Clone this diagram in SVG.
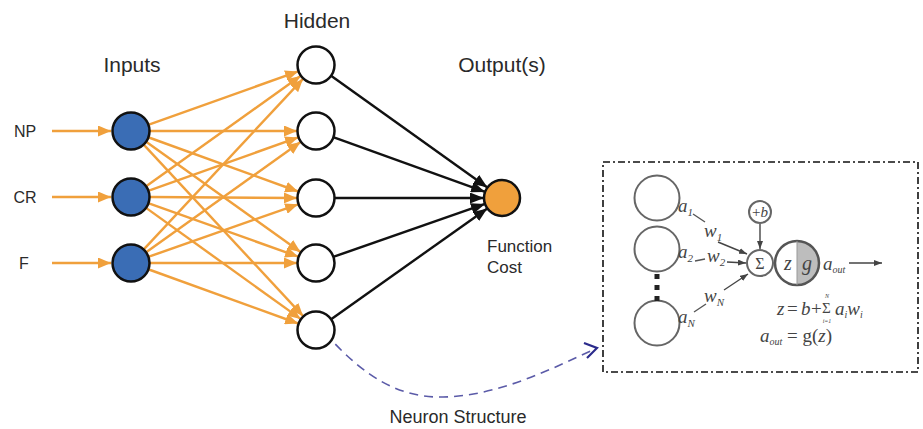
<svg xmlns="http://www.w3.org/2000/svg" width="923" height="429" viewBox="0 0 923 429">
<style>
.lbl{font-family:"Liberation Sans",Arial,sans-serif;fill:#2a2a2a}
.ttl{font-size:21px;text-anchor:middle}
.sm{font-size:16px}
.or{stroke:#F0A03C;stroke-width:2.4;fill:none;marker-end:url(#ao)}
.bk{stroke:#111;stroke-width:2.4;fill:none;marker-end:url(#ab)}
.in{fill:#3A6DB5;stroke:#111;stroke-width:2.5}
.hd{fill:#fff;stroke:#111;stroke-width:2.5}
.mt{font-family:"Liberation Serif","Times New Roman",serif;font-style:italic;fill:#444}
.up{font-family:"Liberation Serif","Times New Roman",serif;fill:#444}
.ic{fill:#fff;stroke:#666;stroke-width:2}
.thin{stroke:#555;stroke-width:1.4;fill:none}
.ta{stroke:#444;stroke-width:1.4;fill:none;marker-end:url(#at)}
</style>
<defs>
<marker id="ao" markerUnits="userSpaceOnUse" markerWidth="13" markerHeight="11" refX="13" refY="5.5" orient="auto"><path d="M0,0 L13,5.5 L0,11 z" fill="#F0A03C"/></marker>
<marker id="ab" markerUnits="userSpaceOnUse" markerWidth="14" markerHeight="11" refX="14" refY="5.5" orient="auto"><path d="M0,0 L14,5.5 L0,11 z" fill="#111"/></marker>
<marker id="at" markerUnits="userSpaceOnUse" markerWidth="8" markerHeight="6" refX="8" refY="3" orient="auto"><path d="M0,0 L8,3 L0,6 z" fill="#444"/></marker>
</defs>
<rect width="923" height="429" fill="#fff"/>
<text class="lbl ttl" x="132" y="72">Inputs</text>
<text class="lbl ttl" x="317" y="28">Hidden</text>
<text class="lbl ttl" x="502" y="72">Output(s)</text>
<g id="connectors">
<path class="or" d="M52,131 L111,131"/>
<path class="or" d="M52,197 L111,197"/>
<path class="or" d="M52,263 L111,263"/>
<path class="or" d="M148.9,124.6 L298.1,71.4"/>
<path class="or" d="M150,131 L297,131"/>
<path class="or" d="M148.9,137.5 L298.1,191.5"/>
<path class="or" d="M146.5,142 L300.5,252"/>
<path class="or" d="M143.9,144.9 L303.1,316.1"/>
<path class="or" d="M146.5,186 L300.5,76"/>
<path class="or" d="M148.9,190.6 L298.1,137.4"/>
<path class="or" d="M150,197 L297,198"/>
<path class="or" d="M148.9,203.4 L298.1,256.6"/>
<path class="or" d="M146.4,208.1 L300.6,318.9"/>
<path class="or" d="M144,249.1 L303,78.9"/>
<path class="or" d="M146.5,252 L300.5,142"/>
<path class="or" d="M148.9,256.7 L298.1,204.3"/>
<path class="or" d="M150,263 L297,263"/>
<path class="or" d="M148.9,269.5 L298.1,323.5"/>
<path class="bk" d="M331.4,76.1 L487.4,187.5"/>
<path class="bk" d="M333.9,137.4 L485.1,191.9"/>
<path class="bk" d="M335,198 L484,198"/>
<path class="bk" d="M333.9,256.7 L485,203.9"/>
<path class="bk" d="M331.5,319 L487.3,208.4"/>
<path d="M325,333 C365,378 400,398 443,397 C500,396 555,367 595,349" fill="none" stroke="#5B5BA8" stroke-width="1.6" stroke-dasharray="9,6"/>
<path d="M584,343 L597,348 L587,358" fill="none" stroke="#2B2B8C" stroke-width="2.2" stroke-linejoin="miter"/>
</g>
<g id="in-np"><circle class="in" cx="131" cy="131" r="18.5"/><text class="lbl sm" x="25" y="137" text-anchor="middle">NP</text></g>
<g id="in-cr"><circle class="in" cx="131" cy="197" r="18.5"/><text class="lbl sm" x="25" y="203" text-anchor="middle">CR</text></g>
<g id="in-f"><circle class="in" cx="131" cy="263" r="18.5"/><text class="lbl sm" x="24" y="269" text-anchor="middle">F</text></g>
<g id="h1"><circle class="hd" cx="316" cy="65" r="18.5"/></g>
<g id="h2"><circle class="hd" cx="316" cy="131" r="18.5"/></g>
<g id="h3"><circle class="hd" cx="316" cy="198" r="18.5"/></g>
<g id="h4"><circle class="hd" cx="316" cy="263" r="18.5"/></g>
<g id="h5"><circle class="hd" cx="316" cy="330" r="18.5"/></g>
<g id="out"><circle cx="502" cy="198" r="18" fill="#F0A03C" stroke="#111" stroke-width="2.5"/>
<text class="lbl" font-size="17" x="487" y="252">Function</text><text class="lbl" font-size="17" x="487" y="273">Cost</text></g>
<text class="lbl" font-size="18" x="458" y="423" text-anchor="middle">Neuron Structure</text>
<g id="neuron">
<rect x="603" y="162" width="315" height="210" fill="none" stroke="#111" stroke-width="1.6" stroke-dasharray="7,3,2,3"/>
<circle class="ic" cx="657" cy="198" r="22.5"/>
<circle class="ic" cx="657" cy="249" r="22.5"/>
<circle class="ic" cx="657" cy="323" r="22.5"/>
<rect x="654.5" y="274" width="5" height="5" fill="#222"/>
<rect x="654.5" y="285" width="5" height="5" fill="#222"/>
<rect x="654.5" y="296" width="5" height="5" fill="#222"/>
<text class="mt" font-size="19" x="678" y="212">a<tspan font-size="11" dy="4">1</tspan></text>
<text class="mt" font-size="19" x="704" y="237">w<tspan font-size="11" dy="4">1</tspan></text>
<text class="mt" font-size="19" x="678" y="258">a<tspan font-size="11" dy="4">2</tspan></text>
<text class="mt" font-size="19" x="707" y="262">w<tspan font-size="11" dy="4">2</tspan></text>
<text class="mt" font-size="19" x="704" y="302">w<tspan font-size="11" dy="4">N</tspan></text>
<text class="mt" font-size="19" x="678" y="323">a<tspan font-size="11" dy="4">N</tspan></text>
<path class="thin" d="M693,214 L705,222"/>
<path class="ta" d="M718,242 L747,254"/>
<path class="thin" d="M695,261 L705,259"/>
<path class="ta" d="M727,262 L746,263"/>
<path class="thin" d="M694,312 L706,304"/>
<path class="ta" d="M724,290 L748,274"/>
<circle class="ic" cx="760" cy="212" r="11"/>
<text class="mt" font-size="15" x="760" y="217" text-anchor="middle"><tspan font-style="normal">+</tspan>b</text>
<path class="ta" d="M760,224 L760,249"/>
<circle class="ic" cx="760" cy="263" r="13"/>
<text class="up" font-size="16" x="760" y="269" text-anchor="middle">Σ</text>
<path d="M797,241 A22,22 0 0 1 797,285 Z" fill="#BDBDBD"/>
<circle cx="797" cy="263" r="22" fill="none" stroke="#555" stroke-width="2.5"/>
<line x1="797" y1="241" x2="797" y2="285" stroke="#999" stroke-width="1"/>
<text class="mt" font-size="20" x="784" y="270">z</text>
<text class="mt" font-size="20" x="802" y="270">g</text>
<text class="mt" font-size="19" x="823" y="270">a<tspan font-size="10" dy="3">out</tspan></text>
<path class="ta" d="M849,263 L882,263"/>
<text class="mt" font-size="19" x="777" y="315">z</text>
<text class="up" font-size="19" x="787" y="315">=</text>
<text class="mt" font-size="19" x="801" y="315">b</text>
<text class="up" font-size="19" x="811" y="315">+</text>
<text class="up" font-size="15" x="822" y="313">Σ</text>
<text class="mt" font-size="19" x="835" y="315">a<tspan font-size="10" dy="3">i</tspan><tspan dy="-3">w</tspan><tspan font-size="10" dy="3">i</tspan></text>
<text class="mt" font-size="6" x="827" y="298" text-anchor="middle">N</text>
<text class="mt" font-size="6" x="827" y="323" text-anchor="middle">i=1</text>
<text class="mt" font-size="19" x="760" y="342">a<tspan font-size="10" dy="3">out</tspan><tspan dy="-3" font-style="normal"> = g(</tspan>z<tspan font-style="normal">)</tspan></text>
</g>
</svg>
